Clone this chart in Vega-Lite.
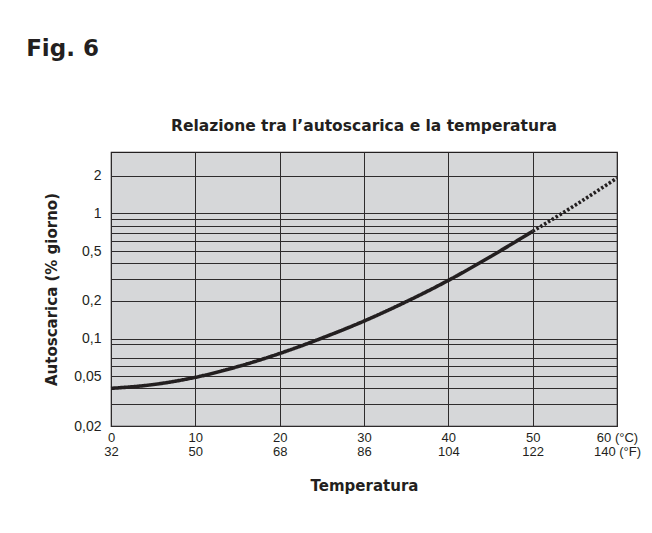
{
  "$schema": "https://vega.github.io/schema/vega-lite/v6.json",
  "background": "white",
  "padding": {"left": 26, "top": 37, "right": 5, "bottom": 5},
  "title": {
    "text": "Fig. 6",
    "anchor": "start",
    "dx": -18,
    "font": "DejaVu Sans",
    "fontSize": 23,
    "fontWeight": "bold",
    "color": "#231f20",
    "offset": 57
  },
  "vconcat": [
    {
      "width": 506,
      "height": 274,
      "title": {
        "text": "Relazione tra l’autoscarica e la temperatura",
        "anchor": "middle",
        "frame": "group",
        "font": "DejaVu Sans",
        "fontSize": 15.5,
        "fontWeight": "bold",
        "color": "#231f20",
        "offset": 18
      },
      "data": {
        "values": [
          {"t": 0, "v": 0.040, "s": "misurato"},
          {"t": 5, "v": 0.0429, "s": "misurato"},
          {"t": 10, "v": 0.049, "s": "misurato"},
          {"t": 15, "v": 0.0596, "s": "misurato"},
          {"t": 20, "v": 0.076, "s": "misurato"},
          {"t": 25, "v": 0.1008, "s": "misurato"},
          {"t": 30, "v": 0.138, "s": "misurato"},
          {"t": 35, "v": 0.197, "s": "misurato"},
          {"t": 40, "v": 0.2917, "s": "misurato"},
          {"t": 45, "v": 0.452, "s": "misurato"},
          {"t": 50, "v": 0.72, "s": "misurato"},
          {"t": 50, "v": 0.72, "s": "estrapolato"},
          {"t": 55, "v": 1.16, "s": "estrapolato"},
          {"t": 60, "v": 1.92, "s": "estrapolato"}
        ]
      },
      "mark": {"type": "line", "interpolate": "monotone", "strokeWidth": 3.6, "color": "#231f20", "strokeCap": "butt"},
      "encoding": {
        "x": {
          "field": "t",
          "type": "quantitative",
          "scale": {"domain": [0, 60], "nice": false},
          "axis": {
            "values": [0, 10, 20, 30, 40, 50, 60],
            "labelExpr": "[['0','32'],['10','50'],['20','68'],['30','86'],['40','104'],['50','122'],['60 (°C)','140 (°F)']][round(datum.value/10)]",
            "labelPadding": 5,
            "labelFontSize": 13,
            "labelLineHeight": 14.5,
            "labelFlush": false,
            "title": "Temperatura",
            "titlePadding": 20
          }
        },
        "y": {
          "field": "v",
          "type": "quantitative",
          "scale": {"type": "log", "domain": [0.02, 3.1], "nice": false},
          "axis": {
            "values": [0.02, 0.03, 0.04, 0.05, 0.06, 0.07, 0.09, 0.1, 0.2, 0.3, 0.4, 0.5, 0.6, 0.7, 0.8, 0.9, 1, 2],
            "labelExpr": "indexof([0.02, 0.05, 0.1, 0.2, 0.5, 1, 2], datum.value) >= 0 ? replace(toString(datum.value), '.', ',') : ''",
            "labelPadding": 10,
            "labelOverlap": false,
            "title": "Autoscarica (% giorno)",
            "titlePadding": 14
          }
        },
        "strokeDash": {
          "field": "s",
          "type": "nominal",
          "scale": {"domain": ["misurato", "estrapolato"], "range": [[1, 0], [2.5, 2]]},
          "legend": null
        }
      }
    }
  ],
  "config": {
    "view": {"fill": "#d6d7d9", "stroke": "#231f20", "strokeWidth": 1.2},
    "axis": {
      "domain": false,
      "ticks": false,
      "grid": true,
      "gridColor": "#2e2b2c",
      "gridWidth": 1,
      "gridOpacity": 1,
      "labelFont": "Liberation Sans",
      "labelFontSize": 14,
      "labelColor": "#231f20",
      "labelBound": false,
      "titleFont": "DejaVu Sans",
      "titleFontSize": 15,
      "titleFontWeight": "bold",
      "titleColor": "#231f20"
    }
  }
}
